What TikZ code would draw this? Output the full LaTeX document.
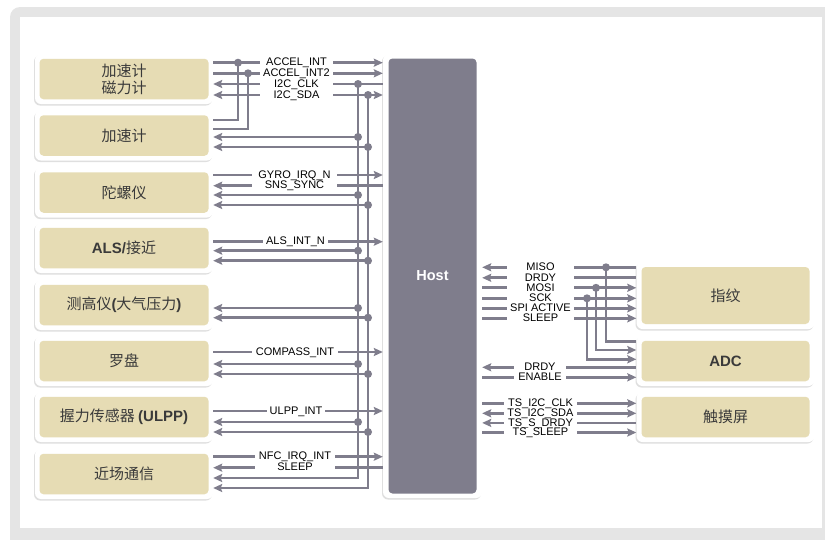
\documentclass[tikz,border=0pt]{standalone}
\usepackage{fontspec}
\setmainfont{Liberation Sans}
\newfontfamily\cjk{Noto Sans CJK SC}
\usetikzlibrary{arrows.meta,shadows}
\definecolor{linec}{HTML}{7F7D8C}
\definecolor{tanc}{HTML}{E6DCB4}
\definecolor{framec}{HTML}{E5E5E5}
\definecolor{textc}{HTML}{3A3A3A}
\newcommand\latb[1]{{\normalfont\bfseries #1}}
\tikzset{
  wire/.style={draw=linec, line width=2.8pt},
  lbl/.style={fill=white, font=\fontsize{11}{12}\selectfont, text=black, inner xsep=3pt, inner ysep=0pt, text height=7.6pt, text depth=1.1pt},
  dot/.style={circle, fill=linec, inner sep=0pt, minimum size=8pt},
  obox/.style={fill=white, rounded corners=6pt, minimum width=178pt, minimum height=50pt, inner sep=0pt,
    drop shadow={shadow xshift=-1pt, shadow yshift=-1.5pt, opacity=0.25}},
  ibox/.style={fill=tanc, rounded corners=4pt, minimum width=169pt, minimum height=40.5pt, inner sep=0pt,
    font=\cjk\fontsize{15}{17}\selectfont, text=textc, align=center},
}
\begin{document}
\begin{tikzpicture}[x=1pt,y=-1pt,>={Stealth[length=9pt,width=8pt,inset=1.5pt]}]
\useasboundingbox (0,0) rectangle (825,539);
% frame
\fill[framec, rounded corners=10pt] (10,7) rectangle (845,560);
\fill[white] (20,17) rectangle (822,528);

% left boxes
\node[obox] (b1) at (124,79) {};
\node[ibox] (t1) at (b1) {加速计\\磁力计};
\node[obox] (b2) at (124,135.5) {};
\node[ibox] (t2) at (b2) {加速计};
\node[obox] (b3) at (124,192.5) {};
\node[ibox] (t3) at (b3) {陀螺仪};
\node[obox] (b4) at (124,248) {};
\node[ibox] (t4) at (b4) {\latb{ALS/}接近};
\node[obox] (b5) at (124,305) {};
\node[ibox] (t5) at (b5) {测高仪\latb{(}大气压力\latb{)}};
\node[obox] (b6) at (124,361) {};
\node[ibox] (t6) at (b6) {罗盘};
\node[obox] (b7) at (124,417) {};
\node[ibox] (t7) at (b7) {握力传感器 \latb{(ULPP)}};
\node[obox] (b8) at (124,474) {};
\node[ibox] (t8) at (b8) {近场通信};

% host
\node[obox, minimum width=99pt, minimum height=444pt] (host) at (432.5,276) {};
\node[fill=linec, rounded corners=4pt, minimum width=88pt, minimum height=435pt, inner sep=0pt,
  text=white, font=\bfseries\fontsize{14.5}{16}\selectfont] (hostin) at (host) {\raisebox{-2pt}{Host}};

% right boxes
\node[obox, minimum height=67pt] (fp) at (725.5,295.5) {};
\node[ibox, minimum width=168pt, minimum height=57pt] (tfp) at (fp) {指纹};
\node[obox] (adc) at (725.5,361) {};
\node[ibox, minimum width=168pt] (tadc) at (adc) {\latb{ADC}};
\node[obox] (ts) at (725.5,417) {};
\node[ibox, minimum width=168pt] (tts) at (ts) {触摸屏};

% ---- left connectors
\draw[wire,->] (b1.east |- 0,62.7) -- (host.west |- 0,62.7);
\draw[wire,->] (b1.east |- 0,73.3) -- (host.west |- 0,73.3);
\draw[wire,<-] (b1.east |- 0,84) -- (host.west |- 0,84);
\draw[wire,<->] (b1.east |- 0,95) -- (host.west |- 0,95);
\node[dot] (da) at (238,62.7) {};
\node[dot] (db) at (248,73.3) {};
\node[dot] (dc) at (358,84) {};
\node[dot] (dd) at (368,95) {};
\draw[wire] (da.center) |- (b2.east |- 0,120);
\draw[wire] (db.center) |- (b2.east |- 0,129);
\draw[wire,->] (dc.center) |- (b8.east |- 0,478);
\draw[wire,->] (dd.center) |- (b8.east |- 0,488);
\foreach \ya/\yb/\bx [count=\i] in {137/147/b2, 195/205/b3, 250.7/260.7/b4, 308/317.7/b5, 364/374/b6, 422/432/b7}{
  \node[dot] (pa\i) at (358,\ya) {};
  \node[dot] (pb\i) at (368,\yb) {};
  \draw[wire,->] (pa\i.center) -- (\bx.east |- 0,\ya);
  \draw[wire,->] (pb\i.center) -- (\bx.east |- 0,\yb);
}
\draw[wire,->] (b3.east |- 0,175) -- (host.west |- 0,175);
\draw[wire,<-] (b3.east |- 0,185.7) -- (host.west |- 0,185.7);
\draw[wire,->] (b4.east |- 0,241.7) -- (host.west |- 0,241.7);
\draw[wire,->] (b6.east |- 0,352) -- (host.west |- 0,352);
\draw[wire,->] (b7.east |- 0,411) -- (host.west |- 0,411);
\draw[wire,->] (b8.east |- 0,456.7) -- (host.west |- 0,456.7);
\draw[wire,<-] (b8.east |- 0,467.7) -- (host.west |- 0,467.7);

% left labels
\node[lbl, minimum width=73pt] (l1) at (296.5,62.7) {ACCEL\_INT};
\node[lbl, minimum width=73pt] (l2) at (296.5,73.3) {ACCEL\_INT2};
\node[lbl, minimum width=73pt] (l3) at (296.5,84) {I2C\_CLK};
\node[lbl, minimum width=73pt] (l4) at (296.5,95) {I2C\_SDA};
\node[lbl, minimum width=85pt] (l5) at (294.5,175) {GYRO\_IRQ\_N};
\node[lbl, minimum width=85pt] (l6) at (294.5,185.7) {SNS\_SYNC};
\node[lbl, minimum width=65pt] (l7) at (295.5,241.7) {ALS\_INT\_N};
\node[lbl, minimum width=86pt] (l8) at (295,352) {COMPASS\_INT};
\node[lbl, minimum width=58pt] (l9) at (296,411) {ULPP\_INT};
\node[lbl, minimum width=80pt] (l10) at (295,456.7) {NFC\_IRQ\_INT};
\node[lbl, minimum width=80pt] (l11) at (295,467.7) {SLEEP};

% ---- right connectors
\draw[wire,<-] (host.east |- 0,267.3) -- (fp.west |- 0,267.3);
\draw[wire,<-] (host.east |- 0,277.8) -- (fp.west |- 0,277.8);
\draw[wire,->] (host.east |- 0,287.8) -- (fp.west |- 0,287.8);
\draw[wire,->] (host.east |- 0,298.3) -- (fp.west |- 0,298.3);
\draw[wire,->] (host.east |- 0,308.3) -- (fp.west |- 0,308.3);
\draw[wire,->] (host.east |- 0,318.3) -- (fp.west |- 0,318.3);
\node[dot] (rm) at (606,267.3) {};
\node[dot] (ro) at (596,287.8) {};
\node[dot] (rs) at (587,298.3) {};
\draw[wire] (rm.center) |- (adc.west |- 0,341.7);
\draw[wire,->] (ro.center) |- (adc.west |- 0,350);
\draw[wire,->] (rs.center) |- (adc.west |- 0,359.3);
\draw[wire,<-] (host.east |- 0,367.3) -- (adc.west |- 0,367.3);
\draw[wire,->] (host.east |- 0,377.3) -- (adc.west |- 0,377.3);
\draw[wire,->] (host.east |- 0,403.3) -- (ts.west |- 0,403.3);
\draw[wire,<->] (host.east |- 0,413.3) -- (ts.west |- 0,413.3);
\draw[wire,<-] (host.east |- 0,422.9) -- (ts.west |- 0,422.9);
\draw[wire,->] (host.east |- 0,432.5) -- (ts.west |- 0,432.5);

% right labels
\node[lbl, minimum width=67pt] (r1) at (540.5,267.3) {MISO};
\node[lbl, minimum width=67pt] (r2) at (540.5,277.8) {DRDY};
\node[lbl, minimum width=67pt] (r3) at (540.5,287.8) {MOSI};
\node[lbl, minimum width=67pt] (r4) at (540.5,298.3) {SCK};
\node[lbl, minimum width=67pt] (r5) at (540.5,308.3) {SPI ACTIVE};
\node[lbl, minimum width=67pt] (r6) at (540.5,318.3) {SLEEP};
\node[lbl, minimum width=52pt] (r7) at (540,367.3) {DRDY};
\node[lbl, minimum width=52pt] (r8) at (540,377.3) {ENABLE};
\node[lbl, minimum width=73pt] (r9) at (540.5,403.3) {TS\_I2C\_CLK};
\node[lbl, minimum width=73pt] (r10) at (540.5,413.3) {TS\_I2C\_SDA};
\node[lbl, minimum width=73pt] (r11) at (540.5,422.9) {TS\_S\_DRDY};
\node[lbl, minimum width=73pt] (r12) at (540.5,432.5) {TS\_SLEEP};
\end{tikzpicture}
\end{document}
